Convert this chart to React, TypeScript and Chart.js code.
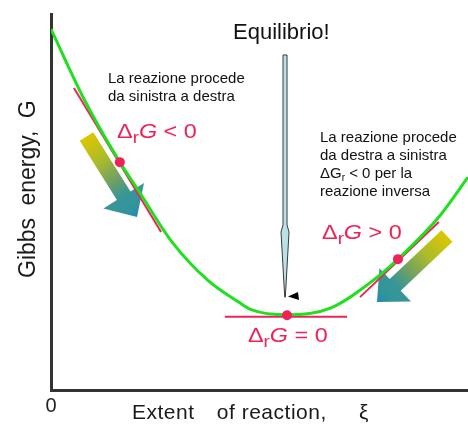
import React, { useEffect, useRef } from 'react';
import { Chart, registerables } from 'chart.js';

Chart.register(...registerables);

// ---- data (extent of reaction ξ in 0..1, Gibbs energy G in arbitrary units 0..100)
const curveXi = [0, 0.08, 0.165, 0.21, 0.29, 0.375, 0.45, 0.48, 0.566, 0.67, 0.78, 0.832, 0.93, 1.0];
const curveG = [96, 77.2, 60.6, 53.0, 39.4, 29.3, 23.4, 21.4, 20.0, 21.8, 29.8, 34.8, 46.0, 56.6];

const tangentLeftXi = [0.055, 0.264];
const tangentLeftG = [80.3, 42.0];
const tangentMinXi = [0.417, 0.71];
const tangentMinG = [19.5, 19.5];
const tangentRightXi = [0.741, 0.93];
const tangentRightG = [24.7, 44.7];

const markerXi = [0.165, 0.566, 0.832];
const markerG = [60.6, 19.9, 34.8];

const xTickValues = [0];
const xTickLabels = ['0'];

const xTitleWords = ['Extent', 'of', 'reaction,', 'ξ'];
const yTitle = 'Gibbs energy, G';

const equilibrioText = 'Equilibrio!';
const leftBlockLines = ['La reazione procede', 'da sinistra a destra'];
const rightBlockLines = ['La reazione procede', 'da destra a sinistra', '__DG__', 'reazione inversa'];

// label anchors in data units (ξ, G)
const deltaLabelXi = [0.1583, 0.6499, 0.4724];
const deltaLabelG = [67.0, 40.2, 12.8];
const deltaLabelSigns = ['<', '>', '='];

// decorative arrows: tail and tip in data units
const gradArrowTailXi = [0.0851, 0.9496];
const gradArrowTailG = [67.42, 40.96];
const gradArrowTipXi = [0.2062, 0.7818];
const gradArrowTipG = [46.01, 23.4];

const eqArrowXi = 0.5612;
const eqArrowG = [89.1, 43.9, 42.0, 24.7]; // top, head start, head widest, tip
const eqTriangleXi = [0.5683, 0.5923, 0.5947];
const eqTriangleG = [24.87, 26.06, 23.94];

const RED = '#ef2257';
const GREEN = '#1fe01f';
const AXIS = '#333333';
const FONT = '"Liberation Sans", Arial, Helvetica, sans-serif';

type Seg = { t: string; italic?: boolean; sub?: boolean };

function drawRich(
  ctx: CanvasRenderingContext2D,
  segs: Seg[],
  x: number,
  y: number,
  size: number,
  subSize: number,
  subDy: number,
  color: string,
  sx = 1
) {
  ctx.save();
  ctx.translate(x, y);
  ctx.scale(sx, 1);
  ctx.fillStyle = color;
  ctx.textBaseline = 'alphabetic';
  ctx.textAlign = 'left';
  let cx = 0;
  for (const s of segs) {
    const sz = s.sub ? subSize : size;
    ctx.font = `${s.italic ? 'italic ' : ''}${sz}px ${FONT}`;
    ctx.fillText(s.t, cx, s.sub ? subDy : 0);
    cx += ctx.measureText(s.t).width;
  }
  ctx.restore();
}

function drawGradArrow(
  ctx: CanvasRenderingContext2D,
  x0: number,
  y0: number,
  x1: number,
  y1: number,
  bodyW: number,
  headW: number,
  headL: number
) {
  const dx = x1 - x0;
  const dy = y1 - y0;
  const len = Math.hypot(dx, dy);
  const ux = dx / len;
  const uy = dy / len;
  const nx = -uy;
  const ny = ux;
  const bx = x1 - ux * headL;
  const by = y1 - uy * headL;
  const g = ctx.createLinearGradient(x0, y0, x1, y1);
  g.addColorStop(0, '#dcc700');
  g.addColorStop(0.3, '#a9bb2c');
  g.addColorStop(0.55, '#6e9f66');
  g.addColorStop(0.72, '#3a9696');
  g.addColorStop(0.9, '#30949e');
  g.addColorStop(1, '#1f86c2');
  ctx.save();
  ctx.fillStyle = g;
  ctx.beginPath();
  ctx.moveTo(x0 + (nx * bodyW) / 2, y0 + (ny * bodyW) / 2);
  ctx.lineTo(bx + (nx * bodyW) / 2, by + (ny * bodyW) / 2);
  ctx.lineTo(bx + (nx * headW) / 2, by + (ny * headW) / 2);
  ctx.lineTo(x1, y1);
  ctx.lineTo(bx - (nx * headW) / 2, by - (ny * headW) / 2);
  ctx.lineTo(bx - (nx * bodyW) / 2, by - (ny * bodyW) / 2);
  ctx.lineTo(x0 - (nx * bodyW) / 2, y0 - (ny * bodyW) / 2);
  ctx.closePath();
  ctx.fill();
  ctx.restore();
}

const decorPlugin = {
  id: 'decor',
  beforeDatasetsDraw(chart: any) {
    const ctx: CanvasRenderingContext2D = chart.ctx;
    const xs = chart.scales.x;
    const ys = chart.scales.y;
    for (let i = 0; i < gradArrowTailXi.length; i++) {
      drawGradArrow(
        ctx,
        xs.getPixelForValue(gradArrowTailXi[i]),
        ys.getPixelForValue(gradArrowTailG[i]),
        xs.getPixelForValue(gradArrowTipXi[i]),
        ys.getPixelForValue(gradArrowTipG[i]),
        16,
        i === 0 ? 48 : 46,
        25
      );
    }
  },
  afterDraw(chart: any) {
    const ctx: CanvasRenderingContext2D = chart.ctx;
    const xs = chart.scales.x;
    const ys = chart.scales.y;
    const area = chart.chartArea;

    // vertical "Equilibrio" arrow
    const cx = xs.getPixelForValue(eqArrowXi);
    const yTop = ys.getPixelForValue(eqArrowG[0]);
    const yHead = ys.getPixelForValue(eqArrowG[1]);
    const yWide = ys.getPixelForValue(eqArrowG[2]);
    const yTip = ys.getPixelForValue(eqArrowG[3]);
    ctx.save();
    ctx.beginPath();
    ctx.moveTo(cx - 2, yTop);
    ctx.lineTo(cx + 2, yTop);
    ctx.lineTo(cx + 2, yHead);
    ctx.lineTo(cx + 4, yWide);
    ctx.lineTo(cx + 0.3, yTip);
    ctx.lineTo(cx - 0.3, yTip);
    ctx.lineTo(cx - 4, yWide);
    ctx.lineTo(cx - 2, yHead);
    ctx.closePath();
    ctx.fillStyle = '#b9e2e6';
    ctx.fill();
    ctx.strokeStyle = '#3a3a3a';
    ctx.lineWidth = 1;
    ctx.stroke();
    // small black triangle
    ctx.beginPath();
    for (let i = 0; i < eqTriangleXi.length; i++) {
      const px = xs.getPixelForValue(eqTriangleXi[i]);
      const py = ys.getPixelForValue(eqTriangleG[i]);
      if (i === 0) ctx.moveTo(px, py);
      else ctx.lineTo(px, py);
    }
    ctx.closePath();
    ctx.fillStyle = '#000';
    ctx.fill();
    ctx.restore();

    // "Equilibrio!"
    ctx.save();
    ctx.fillStyle = '#111';
    ctx.textBaseline = 'alphabetic';
    ctx.textAlign = 'left';
    ctx.font = `22px ${FONT}`;
    ctx.fillText(equilibrioText, xs.getPixelForValue(0.4365), ys.getPixelForValue(93.35));

    // left block
    ctx.font = `15px ${FONT}`;
    const lx = xs.getPixelForValue(0.1367);
    const ly = ys.getPixelForValue(81.57);
    leftBlockLines.forEach((t, i) => ctx.fillText(t, lx, ly + i * 17.7));
    ctx.restore();

    // right block
    const rx = xs.getPixelForValue(0.6451);
    const ry = ys.getPixelForValue(66.04);
    rightBlockLines.forEach((t, i) => {
      const y = ry + i * 18;
      if (t === '__DG__') {
        drawRich(
          ctx,
          [{ t: 'ΔG' }, { t: 'r', sub: true }, { t: ' < 0 per la' }],
          rx,
          y,
          15,
          10,
          3,
          '#111'
        );
      } else {
        ctx.save();
        ctx.fillStyle = '#111';
        ctx.font = `15px ${FONT}`;
        ctx.textBaseline = 'alphabetic';
        ctx.textAlign = 'left';
        ctx.fillText(t, rx, y);
        ctx.restore();
      }
    });

    // red ΔrG labels
    for (let i = 0; i < deltaLabelXi.length; i++) {
      drawRich(
        ctx,
        [{ t: 'Δ' }, { t: 'r', sub: true }, { t: 'G', italic: true }, { t: ` ${deltaLabelSigns[i]} 0` }],
        xs.getPixelForValue(deltaLabelXi[i]),
        ys.getPixelForValue(deltaLabelG[i]),
        20,
        16,
        5,
        RED,
        1.17
      );
    }

    // x tick labels
    ctx.save();
    ctx.fillStyle = '#222';
    ctx.font = `20px ${FONT}`;
    ctx.textBaseline = 'alphabetic';
    ctx.textAlign = 'center';
    xTickValues.forEach((v, i) => {
      ctx.fillText(xTickLabels[i], xs.getPixelForValue(v), area.bottom + 22);
    });
    ctx.restore();

    // x-axis title
    ctx.save();
    ctx.fillStyle = '#1a1a1a';
    ctx.font = `21px ${FONT}`;
    ctx.textBaseline = 'alphabetic';
    ctx.textAlign = 'left';
    (ctx as any).letterSpacing = '0.5px';
    const wordOffsets = [0, 84.7, 109.7, 227];
    const tx0 = area.left + 81;
    xTitleWords.forEach((w, i) => ctx.fillText(w, tx0 + wordOffsets[i], area.bottom + 29));
    ctx.restore();

    // y-axis title
    ctx.save();
    ctx.fillStyle = '#1a1a1a';
    ctx.font = `23px ${FONT}`;
    ctx.textBaseline = 'alphabetic';
    ctx.textAlign = 'left';
    (ctx as any).wordSpacing = '6px';
    ctx.translate(area.left - 16, (area.top + area.bottom) / 2 + 76);
    ctx.rotate(-Math.PI / 2);
    ctx.fillText(yTitle, 0, 0);
    ctx.restore();
  },
};

export default function App() {
  const canvasRef = useRef<HTMLCanvasElement | null>(null);

  useEffect(() => {
    const canvas = canvasRef.current;
    if (!canvas) return;

    const curve = curveXi.map((x, i) => ({ x, y: curveG[i] }));
    const tLeft = tangentLeftXi.map((x, i) => ({ x, y: tangentLeftG[i] }));
    const tMin = tangentMinXi.map((x, i) => ({ x, y: tangentMinG[i] }));
    const tRight = tangentRightXi.map((x, i) => ({ x, y: tangentRightG[i] }));
    const markers = markerXi.map((x, i) => ({ x, y: markerG[i] }));

    const tangentStyle = {
      borderColor: RED,
      borderWidth: 2,
      pointRadius: 0,
      fill: false,
      order: 3,
    };

    const chart = new Chart(canvas, {
      type: 'line',
      data: {
        datasets: [
          { label: 'tangent ΔrG<0', data: tLeft, ...tangentStyle },
          { label: 'tangent ΔrG=0', data: tMin, ...tangentStyle },
          { label: 'tangent ΔrG>0', data: tRight, ...tangentStyle },
          {
            label: 'G',
            data: curve,
            borderColor: GREEN,
            borderWidth: 3,
            pointRadius: 0,
            fill: false,
            cubicInterpolationMode: 'monotone',
            order: 2,
          },
          {
            label: 'points',
            data: markers,
            showLine: false,
            pointRadius: 5,
            pointHoverRadius: 5,
            pointBackgroundColor: RED,
            pointBorderWidth: 0,
            pointBorderColor: RED,
            order: 1,
          },
        ],
      } as any,
      options: {
        animation: false,
        responsive: false,
        events: [],
        layout: { autoPadding: false, padding: { left: 51, top: 14, right: 0, bottom: 37 } },
        plugins: {
          legend: { display: false },
          tooltip: { enabled: false },
        },
        scales: {
          x: {
            type: 'linear',
            min: 0,
            max: 1,
            grid: { display: false, drawTicks: false },
            border: { display: true, color: AXIS, width: 3 },
            ticks: { display: false },
          },
          y: {
            type: 'linear',
            min: 0,
            max: 100,
            grid: { display: false, drawTicks: false },
            border: { display: true, color: AXIS, width: 3 },
            ticks: { display: false },
          },
        },
      } as any,
      plugins: [decorPlugin],
    });

    return () => chart.destroy();
  }, []);

  return (
    <div style={{ position: 'fixed', left: 0, top: 0, width: 468, height: 427, background: '#fff' }}>
      <canvas ref={canvasRef} width={468} height={427} style={{ display: 'block' }} />
    </div>
  );
}
